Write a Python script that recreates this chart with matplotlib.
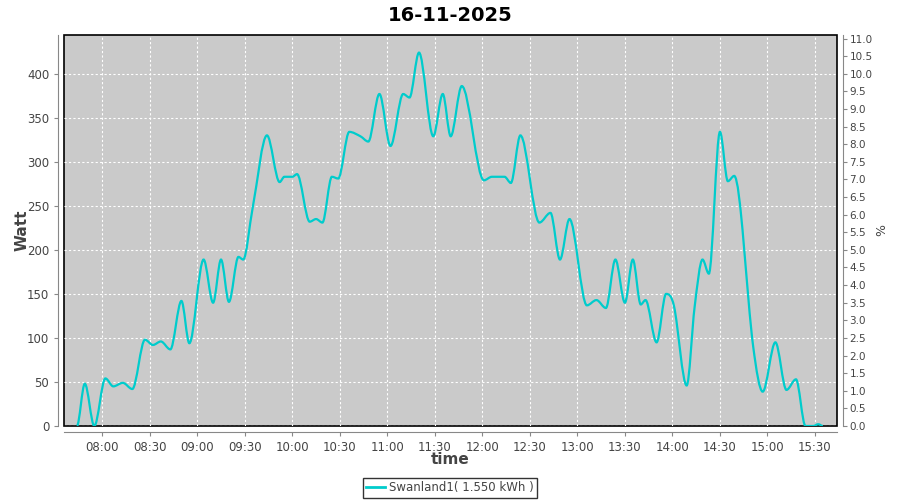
import matplotlib
matplotlib.use('Agg')
import matplotlib.pyplot as plt
from matplotlib.path import Path
from matplotlib.patches import PathPatch
from matplotlib.ticker import FuncFormatter, MultipleLocator

title = '16-11-2025'
series_name = 'Swanland1( 1.550 kWh )'

times = ['07:44', '07:49', '07:55', '08:02', '08:07', '08:13', '08:19', '08:27',
         '08:32', '08:37', '08:43', '08:50', '08:55', '09:04', '09:10', '09:15',
         '09:20', '09:26', '09:29', '09:35', '09:44', '09:52', '09:55', '10:00',
         '10:03', '10:11', '10:15', '10:19', '10:25', '10:29', '10:36', '10:43',
         '10:48', '10:55', '11:02', '11:10', '11:14', '11:20', '11:29', '11:35',
         '11:40', '11:47', '12:01', '12:06', '12:14', '12:18', '12:24', '12:36',
         '12:43', '12:49', '12:55', '13:06', '13:12', '13:18', '13:24', '13:30',
         '13:35', '13:40', '13:43', '13:50', '13:56', '14:01', '14:09', '14:14',
         '14:19', '14:23', '14:30', '14:35', '14:39', '14:51', '14:57', '15:05',
         '15:12', '15:18', '15:24', '15:29', '15:32', '15:35']
watt = [0, 48, 0, 54, 45, 49, 42, 98,
        92, 96, 87, 142, 94, 189, 140, 189,
        141, 192, 189, 248, 330, 277, 283, 283,
        286, 232, 235, 231, 283, 281, 334, 329,
        323, 377, 318, 377, 373, 424, 329, 377,
        329, 386, 279, 283, 283, 276, 330, 231,
        242, 189, 235, 137, 143, 134, 189, 140,
        189, 138, 143, 95, 150, 136, 46, 135,
        189, 173, 334, 278, 284, 90, 39, 95,
        41, 53, 0, 0, 2, 0]

tick_labels = ['08:00', '08:30', '09:00', '09:30', '10:00', '10:30', '11:00', '11:30',
               '12:00', '12:30', '13:00', '13:30', '14:00', '14:30', '15:00', '15:30']


def to_min(s):
    h, m = s.split(':')
    return int(h) * 60 + int(m)


x = [to_min(t) for t in times]
y = watt
n = len(x)

# slopes for the smooth line; flat at local peaks and troughs
slopes = []
for i in range(n):
    if i == 0 or i == n - 1:
        slopes.append(0.0)
    elif (y[i] - y[i - 1]) * (y[i + 1] - y[i]) <= 0:
        slopes.append(0.0)
    else:
        slopes.append((y[i + 1] - y[i - 1]) / (x[i + 1] - x[i - 1]))

verts = [(x[0], y[0])]
codes = [Path.MOVETO]
for i in range(n - 1):
    h = x[i + 1] - x[i]
    verts += [(x[i] + h / 3.0, y[i] + slopes[i] * h / 3.0),
              (x[i + 1] - h / 3.0, y[i + 1] - slopes[i + 1] * h / 3.0),
              (x[i + 1], y[i + 1])]
    codes += [Path.CURVE4] * 3

line_color = '#00CCCC'
grey = '#888888'
text_col = '#444444'

fig = plt.figure(figsize=(9, 5), dpi=100)
ax = fig.add_axes([0.071, 0.148, 0.859, 0.782])
ax.set_facecolor('#CACACA')
ax.patch.set_edgecolor('black')
ax.patch.set_linewidth(1.2)

ax.add_patch(PathPatch(Path(verts, codes), facecolor='none', edgecolor=line_color,
                       linewidth=1.6, transform=ax.transData))
ax.plot([], [], color=line_color, linewidth=2, label=series_name)

ax.set_xlim(455.8, 943.9)
ax.set_ylim(0, 444)
ax.set_xticks([to_min(t) for t in tick_labels])
ax.xaxis.set_major_formatter(FuncFormatter(lambda v, p: '%02d:%02d' % (int(v) // 60, int(v) % 60)))
ax.yaxis.set_major_locator(MultipleLocator(50))

ax.grid(True, color='white', linestyle=(0, (2, 2)), linewidth=0.8)
ax.set_axisbelow(True)

for s in ['top', 'right']:
    ax.spines[s].set_visible(False)
for s in ['left', 'bottom']:
    ax.spines[s].set_position(('outward', 4))
    ax.spines[s].set_color(grey)
ax.tick_params(axis='both', colors=grey, labelcolor=text_col, labelsize=8.5, length=3, width=0.8)

ax.set_ylabel('Watt', fontsize=11, fontweight='bold', color=text_col, labelpad=-2)
ax.set_xlabel('time', fontsize=11, fontweight='bold', color=text_col, labelpad=-1)

ax2 = ax.twinx()
ax2.set_ylim(0, 444 / 40.0)
ax2.yaxis.set_major_locator(MultipleLocator(0.5))
ax2.yaxis.set_major_formatter(FuncFormatter(lambda v, p: '%.1f' % v))
for s in ['top', 'left', 'bottom']:
    ax2.spines[s].set_visible(False)
ax2.spines['right'].set_position(('outward', 4))
ax2.spines['right'].set_color(grey)
ax2.tick_params(axis='y', colors=grey, labelcolor=text_col, labelsize=7.5, length=3, width=0.8, pad=2)
ax2.set_ylabel('%', fontsize=9, color=text_col, labelpad=2)

fig.suptitle(title, fontsize=14, fontweight='bold', y=0.988)

leg = fig.legend(loc='lower center', bbox_to_anchor=(0.5, 0.0), ncol=1, fontsize=8.5,
                 frameon=True, fancybox=False, handlelength=1.6, handletextpad=0.3,
                 borderpad=0.3, borderaxespad=0.2)
leg.get_frame().set_edgecolor('black')
leg.get_frame().set_linewidth(1)
for t in leg.get_texts():
    t.set_color(text_col)

fig.savefig('out.png', dpi=100)
